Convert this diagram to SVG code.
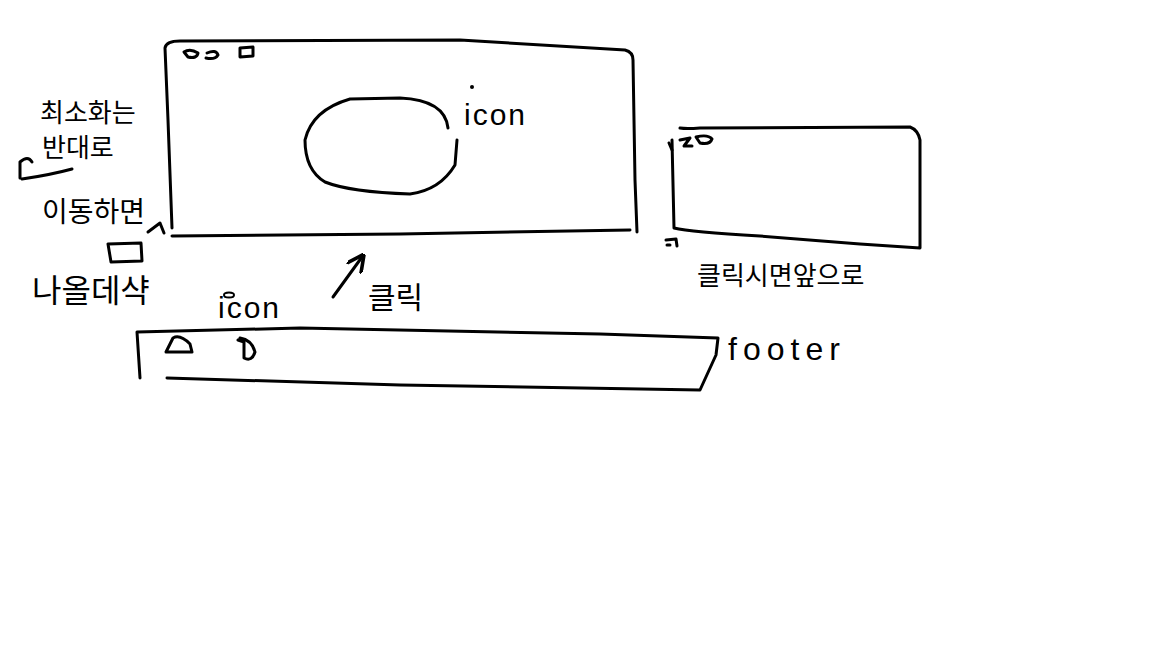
<svg xmlns="http://www.w3.org/2000/svg" width="1152" height="648" viewBox="0 0 1152 648">
<style>
.s{fill:none;stroke:#000;stroke-width:3;stroke-linecap:round;stroke-linejoin:round}
.t{font-family:"Noto Sans CJK KR","Noto Sans",sans-serif;font-size:26px;fill:#000}
.e{font-family:"Liberation Sans",sans-serif;font-size:30px;fill:#000;letter-spacing:2px}
</style>
<defs>
<marker id="ah" viewBox="0 0 10 10" refX="8" refY="5" markerWidth="6" markerHeight="6" orient="auto"><path d="M0,0 L10,5 L0,10" fill="none" stroke="#000" stroke-width="2"/></marker>
</defs>
<rect width="1152" height="648" fill="#fff"/>
<g id="main-window">
<path class="s" d="M172,228 L168,120 L165,48 Q166,41 180,41 L460,40 L625,50 Q633,52 633,60 L635,180 L637,232"/>
<path class="s" d="M172,236 L400,234 L630,230"/>
<path class="s" d="M184,52 Q190,48 198,53 Q197,59 188,57 Z M207,53 Q216,49 218,55 Q215,60 206,58 M240,48 L253,47 L253,56 L240,57 Z"/>
<path class="s" d="M448,128 Q445,100 400,98 L350,99 Q312,110 305,140 Q305,170 325,182 Q350,192 410,194 Q440,190 455,165 L457,140"/>
<text class="e" x="464" y="125">icon</text>
<circle cx="472" cy="87" r="2" fill="#000"/>
</g>
<g id="side-window">
<path class="s" d="M672,140 L674,228 Q690,232 760,236 L860,244 L920,248 L920,140 Q918,130 910,127 L700,128 Q686,129 680,128"/>
<path class="s" d="M669,143 L672,150 M680,140 L690,138 L684,146 L692,146 M696,137 Q708,134 712,139 Q710,145 700,143 Z"/>
<path class="s" d="M666,240 L676,239 L677,246 M667,245 L670,245"/>
<text class="t" x="697" y="285">클릭시면앞으로</text>
</g>
<g id="footer">
<path class="s" d="M140,378 L137,332 L300,328 L600,334 L718,338 L716,355 L700,390 L400,385 L167,378"/>
<path class="s" d="M166,352 L173,338 Q180,334 190,344 L192,352 Z"/>
<path class="s" d="M238,340 L244,342 L244,358 Q252,362 255,352 Q252,340 240,338"/>
<text class="e" x="218" y="318">icon</text>
<ellipse cx="229" cy="295" rx="5" ry="2.5" fill="none" stroke="#000" stroke-width="2"/>
<text class="e" x="728" y="360" style="font-size:32px;letter-spacing:6px">footer</text>
</g>
<g id="notes">
<text class="t" x="40" y="122">최소화는</text>
<text class="t" x="42" y="157">반대로</text>
<path class="s" d="M20,178 L20,162 Q28,155 32,162 M22,179 Q50,175 72,169"/>
<text class="t" x="42" y="222" style="font-size:28px">이동하면</text>
<path class="s" d="M108,244 L141,243 L142,261 L111,262 Z"/>
<text class="t" x="32" y="302" style="font-size:32px">나올데샥</text>
<text class="t" x="368" y="308" style="font-size:30px">클릭</text>
</g>
<g id="connectors">
<path class="s" d="M148,232 L160,223 L164,233" />
<path class="s" d="M333,297 L362,257" marker-end="url(#ah)"/>
</g>
</svg>
